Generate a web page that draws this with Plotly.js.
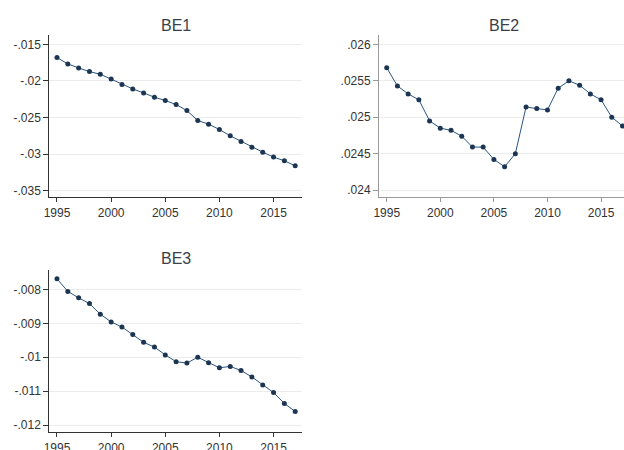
<!DOCTYPE html>
<html>
<head>
<meta charset="utf-8">
<script src="https://cdn.plot.ly/plotly-3.0.1.min.js"></script>
<style>
  html, body { margin: 0; padding: 0; background: #fff; }
  #chart { width: 624px; height: 450px; }
</style>
</head>
<body>
<div id="chart"></div>
<script>
// Yearly series for the three panels
const years = [1995,1996,1997,1998,1999,2000,2001,2002,2003,2004,2005,2006,
               2007,2008,2009,2010,2011,2012,2013,2014,2015,2016,2017];

const be1 = [-0.01682,-0.01768,-0.01823,-0.01873,-0.01909,-0.01975,-0.0205,-0.0211,
             -0.02164,-0.02223,-0.02268,-0.02323,-0.02405,-0.02541,-0.02591,-0.02664,
             -0.0275,-0.02827,-0.02905,-0.02973,-0.03041,-0.03091,-0.03159];

const be2 = [0.02568,0.02543,0.02532,0.02524,0.02495,0.02485,0.02482,0.02474,
             0.02459,0.02459,0.02442,0.02432,0.0245,0.02514,0.02512,0.0251,
             0.0254,0.0255,0.02544,0.02532,0.02524,0.025,0.02488];

const be3 = [-0.00769,-0.00806,-0.00825,-0.00842,-0.00873,-0.00896,-0.00911,-0.00933,
             -0.00956,-0.0097,-0.00993,-0.01013,-0.01017,-0.0100,-0.01016,-0.01031,
             -0.01027,-0.01039,-0.01058,-0.01082,-0.01104,-0.01136,-0.0116];

const titles = ['BE1', 'BE2', 'BE3'];

const xTicks = [1995, 2000, 2005, 2010, 2015];
const xTickText = ['1995', '2000', '2005', '2010', '2015'];

const be1Ticks = [-0.015, -0.02, -0.025, -0.03, -0.035];
const be1TickText = ['-.015', '-.02', '-.025', '-.03', '-.035'];
const be2Ticks = [0.026, 0.0255, 0.025, 0.0245, 0.024];
const be2TickText = ['.026', '.0255', '.025', '.0245', '.024'];
const be3Ticks = [-0.008, -0.009, -0.01, -0.011, -0.012];
const be3TickText = ['-.008', '-.009', '-.01', '-.011', '-.012'];

const W = 624, H = 450;
const FONT = 'Liberation Sans, Arial, sans-serif';

function series(y, xa, ya) {
  return {
    x: years, y: y, xaxis: xa, yaxis: ya,
    type: 'scatter', mode: 'lines+markers',
    line: { color: '#2a5580', width: 1 },
    marker: { color: '#1c3552', size: 5 },
    cliponaxis: false,
    hoverinfo: 'x+y'
  };
}

function xAxis(domain, range, anchor, lineColor) {
  return {
    domain: domain, range: range, anchor: anchor,
    tickmode: 'array', tickvals: xTicks, ticktext: xTickText,
    ticks: 'outside', ticklen: 4, tickwidth: 1, tickcolor: lineColor,
    showline: true, linecolor: lineColor, linewidth: 1,
    showgrid: false, zeroline: false,
    tickfont: { family: FONT, size: 12, color: '#333' }
  };
}

function yAxis(domain, range, anchor, vals, text, lineColor) {
  return {
    domain: domain, range: range, anchor: anchor,
    tickmode: 'array', tickvals: vals, ticktext: text,
    ticks: 'outside', ticklen: 5, tickwidth: 1, tickcolor: lineColor,
    showline: true, linecolor: lineColor, linewidth: 1,
    showgrid: true, gridcolor: '#ececec', gridwidth: 1,
    zeroline: false,
    tickfont: { family: FONT, size: 12, color: '#333' }
  };
}

const px = v => v / W;
const py = v => 1 - v / H;

const data = [
  series(be1, 'x', 'y'),
  series(be2, 'x2', 'y2'),
  series(be3, 'x3', 'y3')
];

const layout = {
  width: W, height: H,
  margin: { l: 0, r: 0, t: 0, b: 0 },
  paper_bgcolor: '#fff', plot_bgcolor: '#fff',
  showlegend: false,
  xaxis:  xAxis([px(49.3), px(301.7)], [1994.29, 2017.6], 'y', '#333'),
  yaxis:  yAxis([py(197.3), py(35)], [-0.0359, -0.01373], 'x', be1Ticks, be1TickText, '#333'),
  xaxis2: xAxis([px(379), 1], [1994.28, 2017.14], 'y2', '#999'),
  yaxis2: yAxis([py(197.3), py(35)], [0.0239, 0.02613], 'x2', be2Ticks, be2TickText, '#999'),
  xaxis3: xAxis([px(49.3), px(301.7)], [1994.29, 2017.6], 'y3', '#333'),
  yaxis3: yAxis([py(432.3), py(270)], [-0.01221, -0.00743], 'x3', be3Ticks, be3TickText, '#333'),
  annotations: [
    { text: titles[0], x: px(175.5), y: py(25), xref: 'paper', yref: 'paper',
      showarrow: false, xanchor: 'center', yanchor: 'middle',
      font: { family: FONT, size: 16, color: '#3a3f4a' } },
    { text: titles[1], x: px(504), y: py(25), xref: 'paper', yref: 'paper',
      showarrow: false, xanchor: 'center', yanchor: 'middle',
      font: { family: FONT, size: 16, color: '#3a3f4a' } },
    { text: titles[2], x: px(175.5), y: py(258.3), xref: 'paper', yref: 'paper',
      showarrow: false, xanchor: 'center', yanchor: 'middle',
      font: { family: FONT, size: 16, color: '#3a3f4a' } }
  ]
};

Plotly.newPlot('chart', data, layout, { displayModeBar: false, staticPlot: true });
</script>
</body>
</html>
